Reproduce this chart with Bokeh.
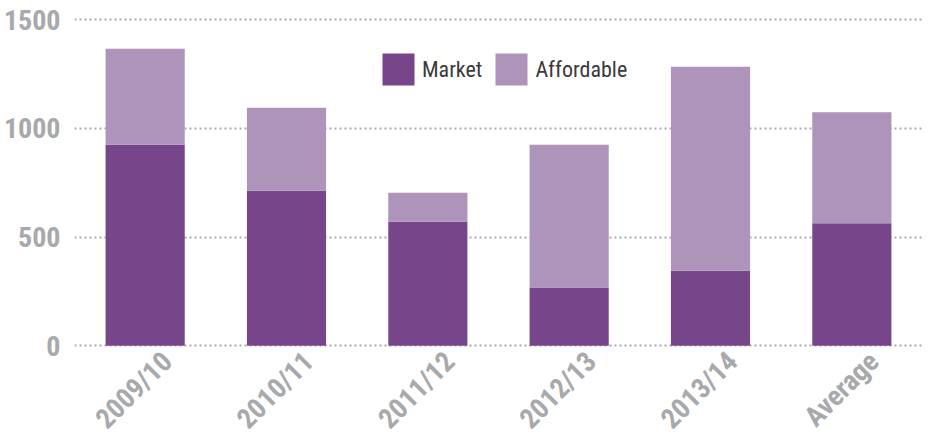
import math
from bokeh.plotting import figure
from bokeh.models import ColumnDataSource, Legend, LegendItem, FixedTicker
from bokeh.core.properties import value
from bokeh.embed import file_html
from bokeh.resources import INLINE

categories = ["2009/10", "2010/11", "2011/12", "2012/13", "2013/14", "Average"]
market = [925, 713, 571, 268, 345, 564]
affordable = [442, 382, 133, 657, 939, 511]
series = ["Market", "Affordable"]
colors = ["#774589", "#ae93ba"]
y_ticks = [0, 500, 1000, 1500]

FONT = "'Roboto Condensed', 'DejaVu Sans Condensed', 'Liberation Sans Narrow', sans-serif"
GREY = "#a7a9ac"

source = ColumnDataSource(dict(cat=categories, Market=market, Affordable=affordable,
                               base=[0] * len(categories)))

# frame reaches down to the canvas bottom so the rotated category labels fit inside it
p = figure(x_range=categories, y_range=(-412.7, 1556.6), width=922, height=435,
           output_backend="svg", toolbar_location=None,
           min_border_left=68, min_border_right=0, min_border_top=7, min_border_bottom=0)
p.x_range.range_padding = 0
p.outline_line_color = None

rs = p.vbar_stack(series, x="cat", width=0.56, color=colors, line_color=None, source=source)

legend = Legend(items=[LegendItem(label=s, renderers=[r]) for s, r in zip(series, rs)],
                orientation="horizontal", location=(304, 346),
                glyph_width=40, glyph_height=40, label_standoff=4, spacing=9,
                padding=0, margin=0, border_line_color=None, background_fill_alpha=0,
                label_text_font=FONT, label_text_font_size="22px",
                label_text_color="#3a3a3a", label_height=40)
p.add_layout(legend)

p.xgrid.grid_line_color = None
p.ygrid.grid_line_color = GREY
p.ygrid.grid_line_dash = "2 3"
p.ygrid.grid_line_width = 2
p.yaxis.ticker = FixedTicker(ticks=y_ticks)

ax = p.yaxis[0]
ax.axis_line_color = None
ax.major_tick_line_color = None
ax.minor_tick_line_color = None
ax.major_tick_out = 0
ax.major_tick_in = 0
ax.minor_tick_out = 0
ax.minor_tick_in = 0
ax.major_label_text_font = FONT
ax.major_label_text_font_style = "bold"
ax.major_label_text_font_size = "28px"
ax.major_label_text_color = GREY
ax.major_label_standoff = 14

p.xaxis.visible = False
p.text(x="cat", y="base", text="cat", source=source,
       angle=math.pi / 4, text_align="right", text_baseline="alphabetic",
       x_offset=22, y_offset=11,
       text_font=value(FONT), text_font_style="bold", text_font_size="28px",
       text_color=GREY)

open("out.html", "w").write(file_html(p, INLINE))
